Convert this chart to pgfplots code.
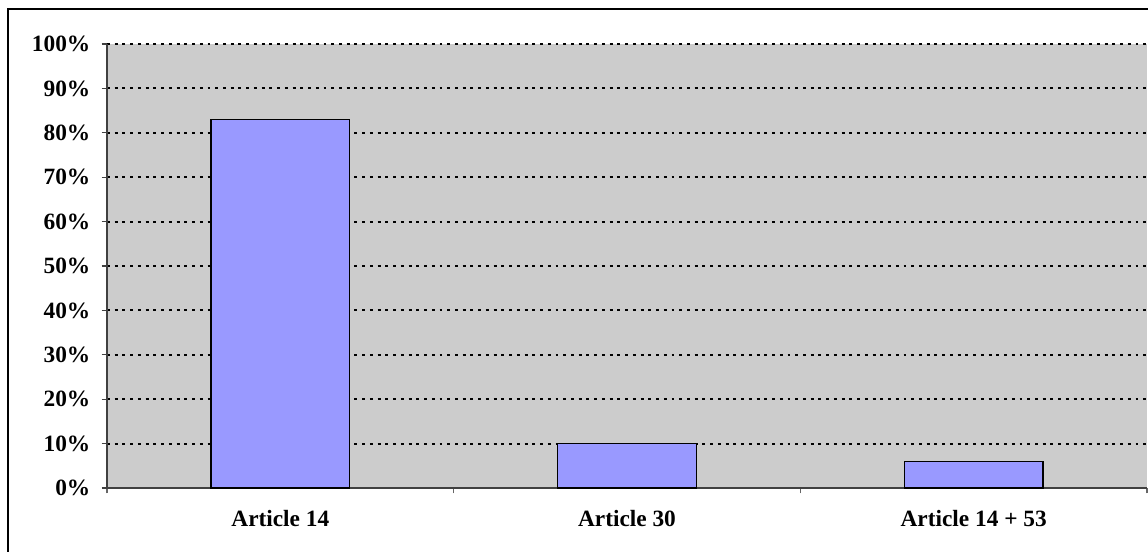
\documentclass[border=0pt]{standalone}
\usepackage{fontspec}
\setmainfont{Liberation Serif}
\usepackage{pgfplots}
\pgfplotsset{compat=1.18}
\definecolor{bgray}{HTML}{CCCCCC}
\definecolor{barblue}{HTML}{9999FF}
\begin{document}
\begin{tikzpicture}[x=1pt,y=1pt]
\draw[line width=1.2pt] (6,-20) rectangle (880,406.5);
\begin{axis}[
  at={(80.25pt,47.25pt)}, anchor=south west,
  scale only axis, width=780pt, height=333pt,
  xmin=0, xmax=3, ymin=0, ymax=100,
  axis x line=bottom, axis y line=left,
  axis line style={draw=black!75, line width=0.8pt, -},
  axis background/.style={fill=bgray},
  xtick={0.5,1.5,2.5},
  xticklabels={Article 14, Article 30, Article 14 + 53},
  major x tick style={draw=none},
  minor xtick={0,1,2,3},
  xtick align=outside,
  minor tick length=4pt,
  ytick={0,10,...,100},
  ytick align=outside,
  major tick length=4pt,
  ytick style={draw=black!75, line width=0.8pt},
  minor x tick style={draw=black!60, line width=0.8pt},
  ymajorgrids,
  grid style={draw=black, line width=1.4pt, dash pattern=on 2.2pt off 3.6pt},
  /pgf/number format/assume math mode=true,
  yticklabel={\pgfmathprintnumber{\tick}\%},
  tick label style={font=\fontsize{17.5}{20}\selectfont\bfseries},
  xticklabel style={yshift=-9pt},
  yticklabel style={xshift=-5pt},
  bar width=0.4,
  clip=false,
]
\addplot[ybar, fill=barblue, draw=black, line width=0.9pt] coordinates {(0.5,83) (1.5,10) (2.5,6)};
\end{axis}
\pgfresetboundingbox
\useasboundingbox (0,0) rectangle (861,413.25);
\end{tikzpicture}
\end{document}
